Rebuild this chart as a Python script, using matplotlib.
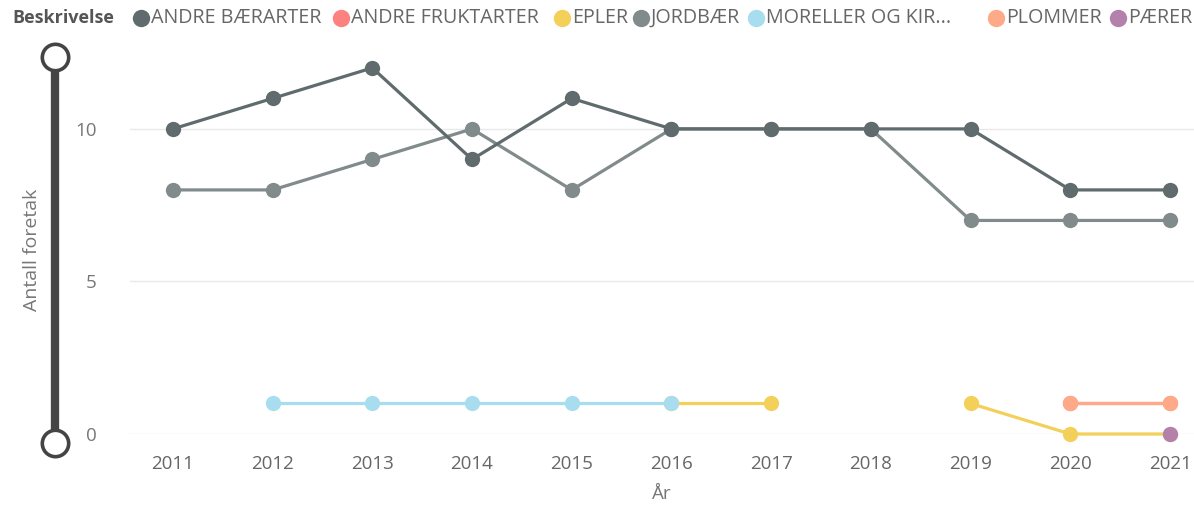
import matplotlib.pyplot as plt
from matplotlib.lines import Line2D
import numpy as np

plt.rcParams['font.family'] = ['Open Sans', 'DejaVu Sans']

# data
years = [2011, 2012, 2013, 2014, 2015, 2016, 2017, 2018, 2019, 2020, 2021]
nan = np.nan
andre_baer = [10, 11, 12, 9, 11, 10, 10, 10, 10, 8, 8]
andre_frukt = [nan, nan, nan, nan, nan, nan, nan, nan, nan, 1, 1]
epler = [nan, nan, nan, nan, nan, 1, 1, nan, 1, 0, 0]
jordbaer = [8, 8, 9, 10, 8, 10, 10, 10, 7, 7, 7]
moreller = [nan, 1, 1, 1, 1, 1, nan, nan, nan, nan, nan]
plommer = [nan, nan, nan, nan, nan, nan, nan, nan, nan, 1, 1]
paerer = [nan, nan, nan, nan, nan, nan, nan, nan, nan, nan, 0]

series = [
    ('ANDRE BÆRARTER', andre_baer, '#5F6B6D'),
    ('ANDRE FRUKTARTER', andre_frukt, '#FD817E'),
    ('EPLER', epler, '#F3D05A'),
    ('JORDBÆR', jordbaer, '#828B8B'),
    ('MORELLER OG KIR...', moreller, '#A7DDEE'),
    ('PLOMMER', plommer, '#FEAA88'),
    ('PÆRER', paerer, '#B381AC'),
]
# draw order so the visible marks end up on top
draw_order = [2, 4, 1, 5, 6, 3, 0]

W, H = 1194, 507
fig = plt.figure(figsize=(W / 100, H / 100), dpi=100, facecolor='white')
ax = fig.add_axes([130 / W, (H - 434) / H, (W - 130) / W, (434 - 45) / H])

for i in draw_order:
    name, vals, col = series[i]
    ax.plot(years, vals, color=col, lw=2.3, marker='o', markersize=11,
            markeredgewidth=0, clip_on=False, zorder=3 + (i == 0))

ax.set_xlim(2010.57, 2021.24)
ax.set_ylim(0, 12.75)
ax.set_xticks(years)
ax.set_yticks([0, 5, 10])
ax.grid(axis='y', color='#E9E9E9', lw=1)
ax.set_axisbelow(True)
for s in ax.spines.values():
    s.set_visible(False)
ax.tick_params(length=0, labelsize=13.5, colors='#777777')
ax.tick_params(axis='x', pad=15)
ax.tick_params(axis='y', pad=24)
for lab in ax.get_xticklabels():
    lab.set_color('#666666')
ax.set_xlabel('År', fontsize=13.5, color='#777777', labelpad=9)

fig.text(32 / W, 1 - 250 / H, 'Antall foretak', rotation=90, ha='center',
         va='center', fontsize=14, color='#777777')

# slider on the left
fig.add_artist(Line2D([55 / W, 55 / W], [1 - 60 / H, 1 - 440 / H], color='#444444',
                      lw=6, solid_capstyle='butt'))
for yy in (57, 443):
    fig.add_artist(Line2D([55 / W], [1 - yy / H], marker='o', markersize=19,
                          markerfacecolor='white', markeredgecolor='#444444',
                          markeredgewidth=2.6))

# legend
ly = 1 - 18 / H
fig.text(12 / W, ly, 'Beskrivelse', fontsize=13, fontweight='bold', color='#555555',
         va='center')
circ_x = [141, 341, 562, 641, 756, 996, 1118]
for (name, vals, col), cx in zip(series, circ_x):
    fig.add_artist(Line2D([cx / W], [ly], marker='o', markersize=12.5, color=col,
                          markeredgewidth=0))
    fig.text((cx + 10) / W, ly, name, fontsize=14.2, color='#666666', va='center')

fig.savefig('out.png', dpi=100)
